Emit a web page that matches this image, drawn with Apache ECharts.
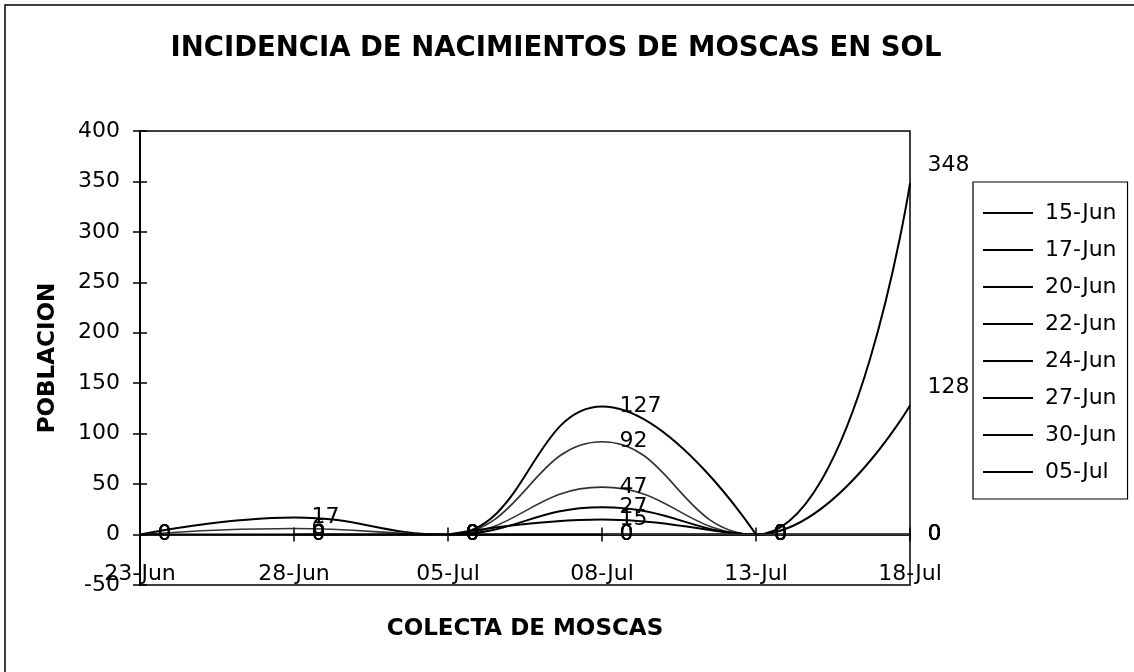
<!DOCTYPE html>
<html>
<head>
<meta charset="utf-8">
<title>Incidencia de nacimientos de moscas en sol</title>
<script src="https://cdn.jsdelivr.net/npm/echarts@6/dist/echarts.min.js"></script>
<style>
    html, body { margin: 0; padding: 0; background: #fff; }
    #main { width: 1134px; height: 672px; }
</style>
</head>
<body>
<div id="main"></div>
<script>
// fechas de colecta (eje X)
var colectas = ['23-Jun', '28-Jun', '05-Jul', '08-Jul', '13-Jul', '18-Jul'];
// fechas de siembra (leyenda)
var siembras = ['15-Jun', '17-Jun', '20-Jun', '22-Jun', '24-Jun', '27-Jun', '30-Jun', '05-Jul'];
// poblacion por fecha de siembra, null = sin dato
var pob15Jun = [0, 17, 0, 0, 0, null];
var pob17Jun = [0, 6, 0, 92, 0, 0];
var pob20Jun = [0, 0, 0, 127, 0, null];
var pob22Jun = [null, 0, 0, 47, 0, 0];
var pob24Jun = [null, 0, 0, 27, 0, 128];
var pob27Jun = [null, null, 0, 15, 0, 348];
var pob30Jun = [null, null, 0, 0, 0, 0];
var pob05Jul = [null, null, null, 0, 0, 0];
// escala del eje Y
var yMin = -50, yMax = 400, yStep = 50;

var poblaciones = [pob15Jun, pob17Jun, pob20Jun, pob22Jun, pob24Jun, pob27Jun, pob30Jun, pob05Jul];
// series que en el original se ven mas claras
var claras = ['17-Jun', '22-Jun', '05-Jul'];

var fuente = 'DejaVu Sans';

// pasa los valores a puntos; las etiquetas altas del ultimo dia van un poco arriba
function puntos(valores) {
    return valores.map(function (v, i) {
        if (i == valores.length - 1 && v > 0) {
            return { value: v, label: { offset: [0, -18] } };
        }
        return v;
    });
}

function crearSerie(nombre, valores) {
    var clara = claras.indexOf(nombre) >= 0;
    return {
        name: nombre,
        type: 'line',
        smooth: 0.45,
        symbol: 'circle',
        symbolSize: 1,
        itemStyle: { color: '#000' },
        lineStyle: { color: clara ? '#333' : '#000', width: clara ? 1.6 : 2 },
        label: {
            show: true,
            position: 'right',
            distance: 17,
            color: '#000',
            fontFamily: fuente,
            fontSize: 22
        },
        data: puntos(valores),
        z: 3
    };
}

var series = [];
for (var i = 0; i < siembras.length; i++) {
    series.push(crearSerie(siembras[i], poblaciones[i]));
}

var option = {
    backgroundColor: '#fff',
    animation: false,
    title: {
        text: 'INCIDENCIA DE NACIMIENTOS DE MOSCAS EN SOL',
        left: 551,
        textAlign: 'center',
        top: 30,
        textStyle: { fontFamily: fuente, fontSize: 27.5, fontWeight: 'bold', color: '#000' }
    },
    legend: {
        orient: 'vertical',
        left: 973,
        top: 182,
        padding: [20, 11, 16, 10],
        itemGap: 15,
        itemWidth: 50,
        itemHeight: 2,
        icon: 'rect',
        borderColor: '#000',
        borderWidth: 1.2,
        data: siembras,
        textStyle: { fontFamily: fuente, fontSize: 22, color: '#000', padding: [0, 0, 0, 7] }
    },
    grid: {
        left: 140,
        right: 224,
        top: 131,
        bottom: 87,
        outerBoundsMode: 'none',
        containLabel: false,
        show: true,
        borderColor: '#000',
        borderWidth: 1.5
    },
    xAxis: [{
        type: 'category',
        boundaryGap: false,
        data: colectas,
        name: 'COLECTA DE MOSCAS',
        nameLocation: 'middle',
        nameGap: 33,
        nameTextStyle: { fontFamily: fuente, fontSize: 23, fontWeight: 'bold', color: '#000' },
        axisLine: { onZero: true, lineStyle: { color: '#000', width: 1.5 } },
        axisTick: { length: 7, lineStyle: { color: '#000', width: 1.5 } },
        axisLabel: { margin: -22, color: '#000', fontFamily: fuente, fontSize: 22 },
        splitLine: { show: false }
    }, {
        type: 'category',
        position: 'top',
        boundaryGap: false,
        data: colectas,
        axisLine: { onZero: true, show: false },
        axisTick: { length: 7, lineStyle: { color: '#000', width: 1.5 } },
        axisLabel: { show: false },
        splitLine: { show: false }
    }],
    yAxis: [{
        type: 'value',
        min: yMin,
        max: yMax,
        interval: yStep,
        name: 'POBLACION',
        nameLocation: 'middle',
        nameGap: 80,
        nameTextStyle: { fontFamily: fuente, fontSize: 23, fontWeight: 'bold', color: '#000' },
        axisLine: { show: true, lineStyle: { color: '#000', width: 2 } },
        axisTick: { show: true, length: 7, lineStyle: { color: '#000', width: 1.5 } },
        axisLabel: { margin: 20, color: '#000', fontFamily: fuente, fontSize: 22 },
        splitLine: { show: false }
    }, {
        type: 'value',
        position: 'left',
        min: yMin,
        max: yMax,
        interval: yStep,
        axisLine: { show: false },
        axisTick: { show: true, inside: true, length: 7, lineStyle: { color: '#000', width: 1.5 } },
        axisLabel: { show: false },
        splitLine: { show: false }
    }],
    graphic: [{
        type: 'polyline',
        shape: { points: [[5, 672], [5, 5], [1134, 5]] },
        style: { stroke: '#000', lineWidth: 1.5, fill: null }
    }],
    series: series
};

var chart = echarts.init(document.getElementById('main'));
chart.setOption(option);
</script>
</body>
</html>
